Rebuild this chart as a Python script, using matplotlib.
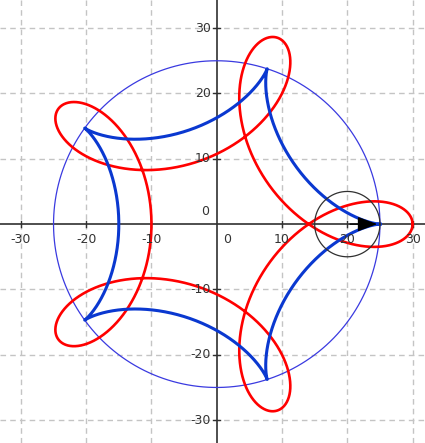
import numpy as np
import matplotlib.pyplot as plt

# big circle radius, rolling circle radius, tracing distance (red)
R = 25
r = 5
d = 10
center = (20, 0)
ticks = [-30, -20, -10, 10, 20, 30]

t = np.linspace(0, 2 * np.pi, 2000)
k = (R - r) / r

# hypocycloid (point on the rim)
hx = (R - r) * np.cos(t) + r * np.cos(k * t)
hy = (R - r) * np.sin(t) - r * np.sin(k * t)
# hypotrochoid (point at distance d)
px = (R - r) * np.cos(t) + d * np.cos(k * t)
py = (R - r) * np.sin(t) - d * np.sin(k * t)

fig = plt.figure(figsize=(4.25, 4.43), dpi=100)
ax = fig.add_axes([0, 0, 1, 1])
ax.set_xlim(-33.2, 31.9)
ax.set_ylim(-33.5, 34.3)

for v in ticks:
    ax.axvline(v, color='#c4c4c4', lw=1, ls=(0, (4, 3)), zorder=0)
    ax.axhline(v, color='#c4c4c4', lw=1, ls=(0, (4, 3)), zorder=0)

ax.axhline(0, color='#303030', lw=1.2, zorder=1)
ax.axvline(0, color='#303030', lw=1.2, zorder=1)

for s in ax.spines.values():
    s.set_visible(False)
ax.set_xticks([])
ax.set_yticks([])

# tick marks and labels
for v in ticks:
    ax.plot([v, v], [-0.5, 0.5], color='#303030', lw=1)
    ax.plot([-0.5, 0.5], [v, v], color='#303030', lw=1)
    ax.text(v, -1.3, str(v), ha='center', va='top', fontsize=9, color='#333333', zorder=7)
    ax.text(-0.9, v, str(v), ha='right', va='center', fontsize=9, color='#333333', zorder=7)
ax.text(-1.2, 0.9, '0', ha='right', va='bottom', fontsize=9, color='#333333')
ax.text(1.0, -1.3, '0', ha='left', va='top', fontsize=9, color='#333333')

ang = np.linspace(0, 2 * np.pi, 400)
ax.plot(R * np.cos(ang), R * np.sin(ang), color='#3a3ae0', lw=0.9, zorder=2)
ax.plot(center[0] + r * np.cos(ang), center[1] + r * np.sin(ang), color='#303030', lw=0.9, zorder=5)

ax.plot(px, py, color='#ff0000', lw=1.9, zorder=3)
ax.plot(hx, hy, color='#0a38d0', lw=2.2, zorder=4)

ax.annotate('', xy=(center[0] + r, 0), xytext=center,
            arrowprops=dict(arrowstyle='-|>,head_length=1.2,head_width=0.45',
                            color='black', lw=1), zorder=6)

fig.savefig('out.png', dpi=100)
